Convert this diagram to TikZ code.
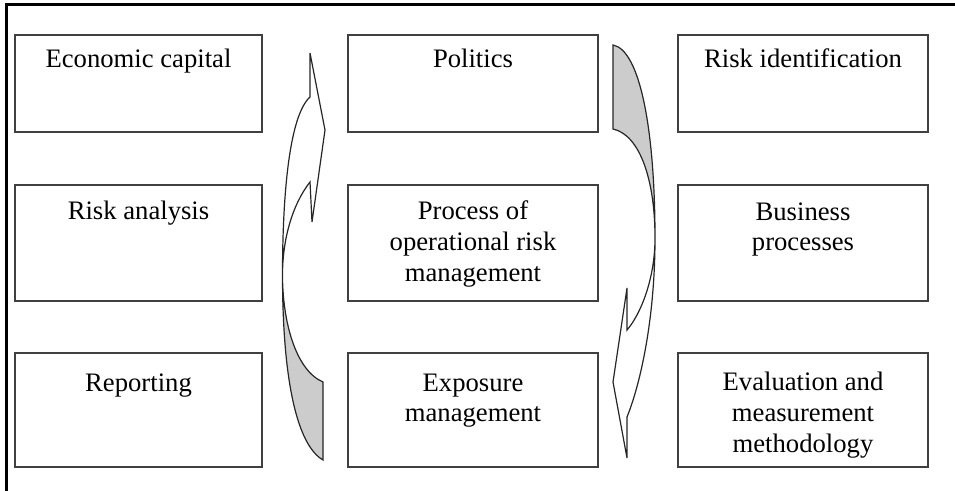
\documentclass[tikz,border=0pt]{standalone}
\usepackage{fontspec}
\setmainfont{Liberation Serif}
\begin{document}
\begin{tikzpicture}[x=0.75pt,y=-0.75pt,
  box/.style={draw=black!75, line width=1.3pt, inner sep=0pt, outer sep=0pt},
  wideA/.style={minimum width=185.25pt},
  wideB/.style={minimum width=187.5pt},
  rowA/.style={minimum height=72.75pt},
  rowB/.style={minimum height=87pt},
  rowC/.style={minimum height=85.5pt},
  % the base anchor of a multi-line label sits on its last line
  label/.style={font=\fontsize{20}{23}\selectfont, align=center, anchor=base, inner sep=0pt},
  band/.style={draw=black!85, line width=0.9pt, line join=miter},
  back/.style={band, fill=black!20},
  front/.style={band, fill=white},
  frame/.style={line width=2.25pt, draw=black}
]
\useasboundingbox (0,0) rectangle (955,491);

% outer frame: top and left rules only
\draw[frame] (6.5,491) -- (6.5,5) -- (955,5);

% boxes
\node[box,wideA,rowA] (b11) at (138.5,83.5) {};
\node[box,wideA,rowB] (b12) at (138.5,243) {};
\node[box,wideA,rowC] (b13) at (138.5,410) {};
\node[box,wideB,rowA] (b21) at (473,83.5) {};
\node[box,wideB,rowB] (b22) at (473,243) {};
\node[box,wideB,rowC] (b23) at (473,410) {};
\node[box,wideB,rowA] (b31) at (803,83.5) {};
\node[box,wideB,rowB] (b32) at (803,243) {};
\node[box,wideB,rowC] (b33) at (803,410) {};

% labels (one line = 30.67 units)
\node[label] (t11) at (138.5,68) {Economic capital};
\node[label] (t12) at (138.5,220) {Risk analysis};
\node[label] (t13) at (138.5,391) {Reporting};
\node[label] (t21) at (473,68) {Politics};
\node[label] (t22) at (473,281.3) {Process of\\operational risk\\management};
\node[label] (t23) at (473,421.7) {Exposure\\management};
\node[label] (t31) at (803,68) {Risk identification};
\node[label] (t32) at (803,250.7) {Business\\processes};
\begin{scope}
  \clip (b33.south west) rectangle (b33.north east);
  \node[label] (t33) at (803,452.3) {Evaluation and\\measurement\\methodology};
\end{scope}

% curved arrow rising on the left, pointing right
\draw[back] (282.5,275) .. controls (282.5,380) and (297,445) .. (323,460)
  -- (323,382) .. controls (295,370) and (282.5,320) .. (282.5,275) -- cycle;
\draw[front] (310,97) -- (310,53) -- (325,130) -- (312,222) -- (310,182)
  .. controls (292,205) and (282.5,240) .. (282.5,275)
  .. controls (282.5,190) and (290,115) .. (310,97) -- cycle;

% curved arrow descending on the right, pointing left
\draw[back] (613,45) .. controls (640,50) and (655,130) .. (655,238)
  .. controls (655,180) and (640,135) .. (613,129) -- cycle;
\draw[front] (627,330) -- (627,288) -- (613,382) -- (627,458) -- (627,417)
  .. controls (640,385) and (655,320) .. (655,238)
  .. controls (655,280) and (640,315) .. (627,330) -- cycle;
\end{tikzpicture}
\end{document}
